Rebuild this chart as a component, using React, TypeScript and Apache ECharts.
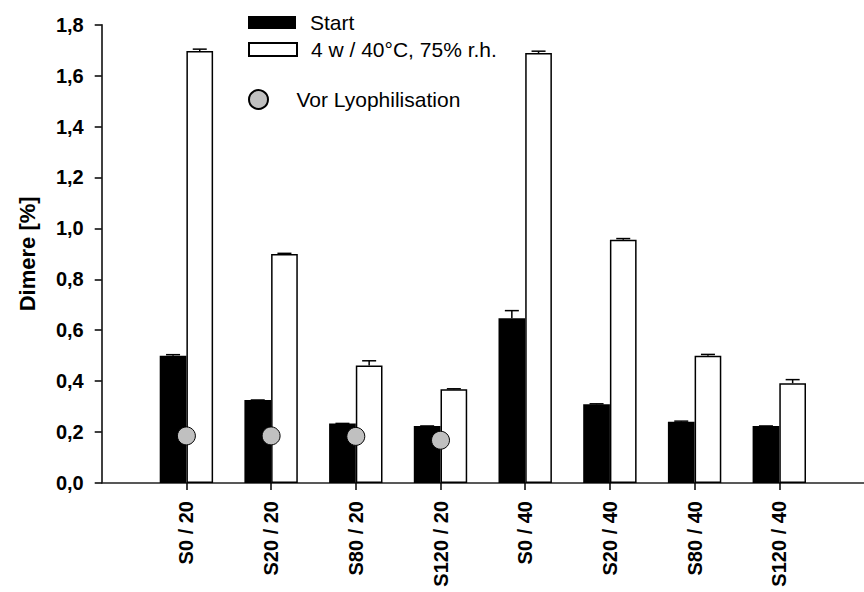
import React, { useEffect, useRef } from "react";
import * as echarts from "echarts";

// Sample groups (padded with empty slots so the axis starts at the y axis)
const categories = ["", "S0 / 20", "S20 / 20", "S80 / 20", "S120 / 20", "S0 / 40", "S20 / 40", "S80 / 40", "S120 / 40", ""];

// Dimer content in %
const startValues = [0.5, 0.326, 0.234, 0.224, 0.647, 0.309, 0.241, 0.224];
const startErrors = [0.004, 0.0, 0.0, 0.0, 0.03, 0.002, 0.002, 0.0];
const storedValues = [1.697, 0.899, 0.461, 0.368, 1.689, 0.955, 0.5, 0.392];
const storedErrors = [0.007, 0.003, 0.019, 0.002, 0.007, 0.005, 0.005, 0.014];
const beforeLyoValues = [0.185, 0.185, 0.183, 0.168];

const yTicks = { min: 0, max: 1.8, interval: 0.2 };

const FONT = "'Liberation Sans', Arial, Helvetica, sans-serif";
const BAR_W = 26.7;

function errorSeries(values: number[], errors: number[], offset: number) {
  return {
    type: "custom",
    z: 5,
    silent: true,
    data: values.map((v, i) => [i + 1, v, errors[i]]),
    renderItem: (_params: any, api: any) => {
      const base = api.coord([api.value(0), api.value(1)]);
      const top = api.coord([api.value(0), api.value(1) + api.value(2)]);
      const x = base[0] + offset;
      const style = { stroke: "#000", lineWidth: 1.5 };
      return {
        type: "group",
        children: [
          { type: "line", shape: { x1: x, y1: base[1], x2: x, y2: top[1] }, style },
          { type: "line", shape: { x1: x - 7, y1: top[1], x2: x + 7, y2: top[1] }, style },
        ],
      };
    },
  };
}

export default function App() {
  const ref = useRef<HTMLDivElement>(null);

  useEffect(() => {
    document.body.style.margin = "0";
    const chart = echarts.init(ref.current!, null, { renderer: "svg" });
    const pad = (arr: number[]) => [null, ...arr, ...new Array(9 - arr.length).fill(null)];

    const legendText = { fontFamily: FONT, fontSize: 21, color: "#000", padding: [0, 0, 0, 9] };

    chart.setOption({
      animation: false,
      backgroundColor: "#fff",
      grid: { left: 101.7, top: 24.7, right: -9.6, bottom: 109, containLabel: false },
      legend: [
        {
          left: 248, top: 12, padding: 0, itemWidth: 48, itemHeight: 13,
          data: [{ name: "Start", icon: "rect" }], textStyle: legendText,
        },
        {
          left: 248, top: 39, padding: 0, itemWidth: 48, itemHeight: 13,
          data: [{ name: "4 w / 40°C, 75% r.h.", icon: "rect" }], textStyle: legendText,
        },
        {
          left: 248, top: 89, padding: 0, itemWidth: 48, itemHeight: 19,
          data: [{ name: "Vor Lyophilisation", icon: "circle" }], textStyle: legendText,
        },
      ],
      xAxis: {
        type: "category",
        data: categories,
        boundaryGap: false,
        axisLine: { lineStyle: { color: "#222", width: 1.5 } },
        axisTick: {
          show: true, length: 7, inside: false,
          interval: (_i: number, v: string) => v !== "",
          lineStyle: { color: "#000", width: 1.5 },
        },
        axisLabel: {
          interval: 0, rotate: 90, margin: 18,
          fontFamily: FONT, fontSize: 20, fontWeight: "bold", color: "#000",
        },
        splitLine: { show: false },
      },
      yAxis: {
        type: "value",
        min: yTicks.min, max: yTicks.max, interval: yTicks.interval,
        name: "Dimere [%]",
        nameLocation: "middle",
        nameGap: 63,
        nameTextStyle: { fontFamily: FONT, fontSize: 22, fontWeight: "bold", color: "#000" },
        axisLine: { show: true, lineStyle: { color: "#000", width: 1.5 } },
        axisTick: { show: true, length: 7, lineStyle: { color: "#000", width: 1.5 } },
        axisLabel: {
          margin: 18, fontFamily: FONT, fontSize: 20, fontWeight: "bold", color: "#000",
          formatter: (v: number) => v.toFixed(1).replace(".", ","),
        },
        splitLine: { show: false },
      },
      series: [
        {
          name: "Start", type: "bar", barWidth: BAR_W, barGap: "0%",
          data: pad(startValues),
          itemStyle: { color: "#000", borderColor: "#000", borderWidth: 0 },
        },
        {
          name: "4 w / 40°C, 75% r.h.", type: "bar", barWidth: BAR_W, barGap: "0%",
          data: pad(storedValues),
          itemStyle: { color: "#fff", borderColor: "#000", borderWidth: 1.5 },
        },
        errorSeries(startValues, startErrors, -BAR_W / 2),
        errorSeries(storedValues, storedErrors, BAR_W / 2),
        {
          name: "Vor Lyophilisation", type: "scatter", z: 6,
          symbol: "circle", symbolSize: 18,
          data: beforeLyoValues.map((v, i) => [i + 1, v]),
          itemStyle: { color: "#c0c0c0", borderColor: "#000", borderWidth: 1, opacity: 1 },
        },
      ],
    });
    return () => chart.dispose();
  }, []);

  return <div ref={ref} style={{ width: 864, height: 592 }} />;
}
